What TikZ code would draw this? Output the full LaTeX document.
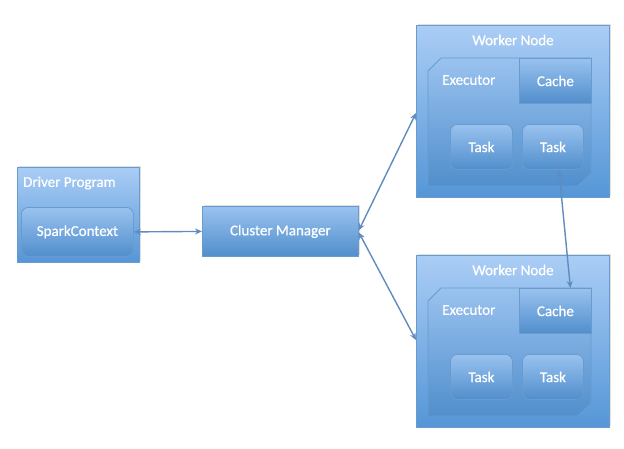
\documentclass[tikz,border=0pt]{standalone}
\usepackage{fontspec}
\setmainfont{Carlito}
\newfontfamily\medfont{Carlito}[FakeBold=0.6]
\usetikzlibrary{arrows.meta,shadows}
\definecolor{boxtop}{RGB}{170,205,245}
\definecolor{boxbot}{RGB}{85,150,215}
\definecolor{boxedge}{RGB}{105,155,205}
\definecolor{arrowc}{RGB}{95,140,190}
\tikzset{
  outerbox/.style={draw=boxedge, line width=0.8pt, top color=boxtop, bottom color=boxbot,
    drop shadow={shadow xshift=1.5pt, shadow yshift=1.5pt, opacity=0.25}},
  innerbox/.style={draw=boxedge, line width=0.8pt, top color=boxtop!80!boxbot, bottom color=boxbot!95!black},
  roundbox/.style={innerbox, rounded corners=7pt},
  lbl/.style={text=white, font=\medfont\fontsize{15}{17}\selectfont, inner sep=0pt},
  conn/.style={draw=arrowc, line width=1.4pt, {Stealth[length=7pt,width=6pt]}-{Stealth[length=7pt,width=6pt]}}
}
\begin{document}
\begin{tikzpicture}[x=1pt,y=-1pt]
\useasboundingbox (0,0) rectangle (624,448);
% Driver program
\path[outerbox] (17,167) rectangle (139,262);
\node[lbl, anchor=west] (dptxt) at (23,183) {Driver Program};
\node[roundbox, minimum width=112pt, minimum height=49pt, anchor=north west, inner sep=0pt] (sc) at (21,207) {};
\node[lbl] at (sc.center) {SparkContext};
% Cluster manager
\node[innerbox, minimum width=156pt, minimum height=50pt, anchor=north west, inner sep=0pt,
  drop shadow={shadow xshift=1.5pt, shadow yshift=1.5pt, opacity=0.25}] (cm) at (202,206) {};
\node[lbl] at (cm.center) {Cluster Manager};
% Worker nodes
\foreach \i/\dy in {1/0, 2/230} {
  \begin{scope}[yshift=-\dy pt]
    \node[outerbox, minimum width=193pt, minimum height=172pt, anchor=north west, inner sep=0pt] (w\i) at (416,25) {};
    \node[lbl] (wt\i) at (513,40) {Worker Node};
    \path[innerbox] (441,58) -- (591,58) -- (591,173) -- (578,186) -- (428,186) -- (428,71) -- cycle;
    \node[lbl, anchor=west] (ex\i) at (442,80) {Executor};
    \node[innerbox, minimum width=72pt, minimum height=45pt, anchor=north west, inner sep=0pt] (c\i) at (519,58) {};
    \node[lbl] at (c\i.center) {Cache};
    \node[roundbox, minimum width=62pt, minimum height=45pt, anchor=north west, inner sep=0pt] (ta\i) at (450,124) {};
    \node[lbl] at (ta\i.center) {Task};
    \node[roundbox, minimum width=61pt, minimum height=45pt, anchor=north west, inner sep=0pt] (tb\i) at (522,124) {};
    \node[lbl] at (tb\i.center) {Task};
  \end{scope}
}
% connectors
\draw[conn] (sc.east) -- (cm.west);
\coordinate (w1in) at (416,113);
\coordinate (w2in) at (416,340);
\draw[conn] ([yshift=1pt]cm.east) -- (w1in);
\draw[conn] ([yshift=-1pt]cm.east) -- (w2in);
\draw[conn] ([xshift=6pt]tb1.south) -- ([xshift=15pt]c2.north);
\end{tikzpicture}
\end{document}
